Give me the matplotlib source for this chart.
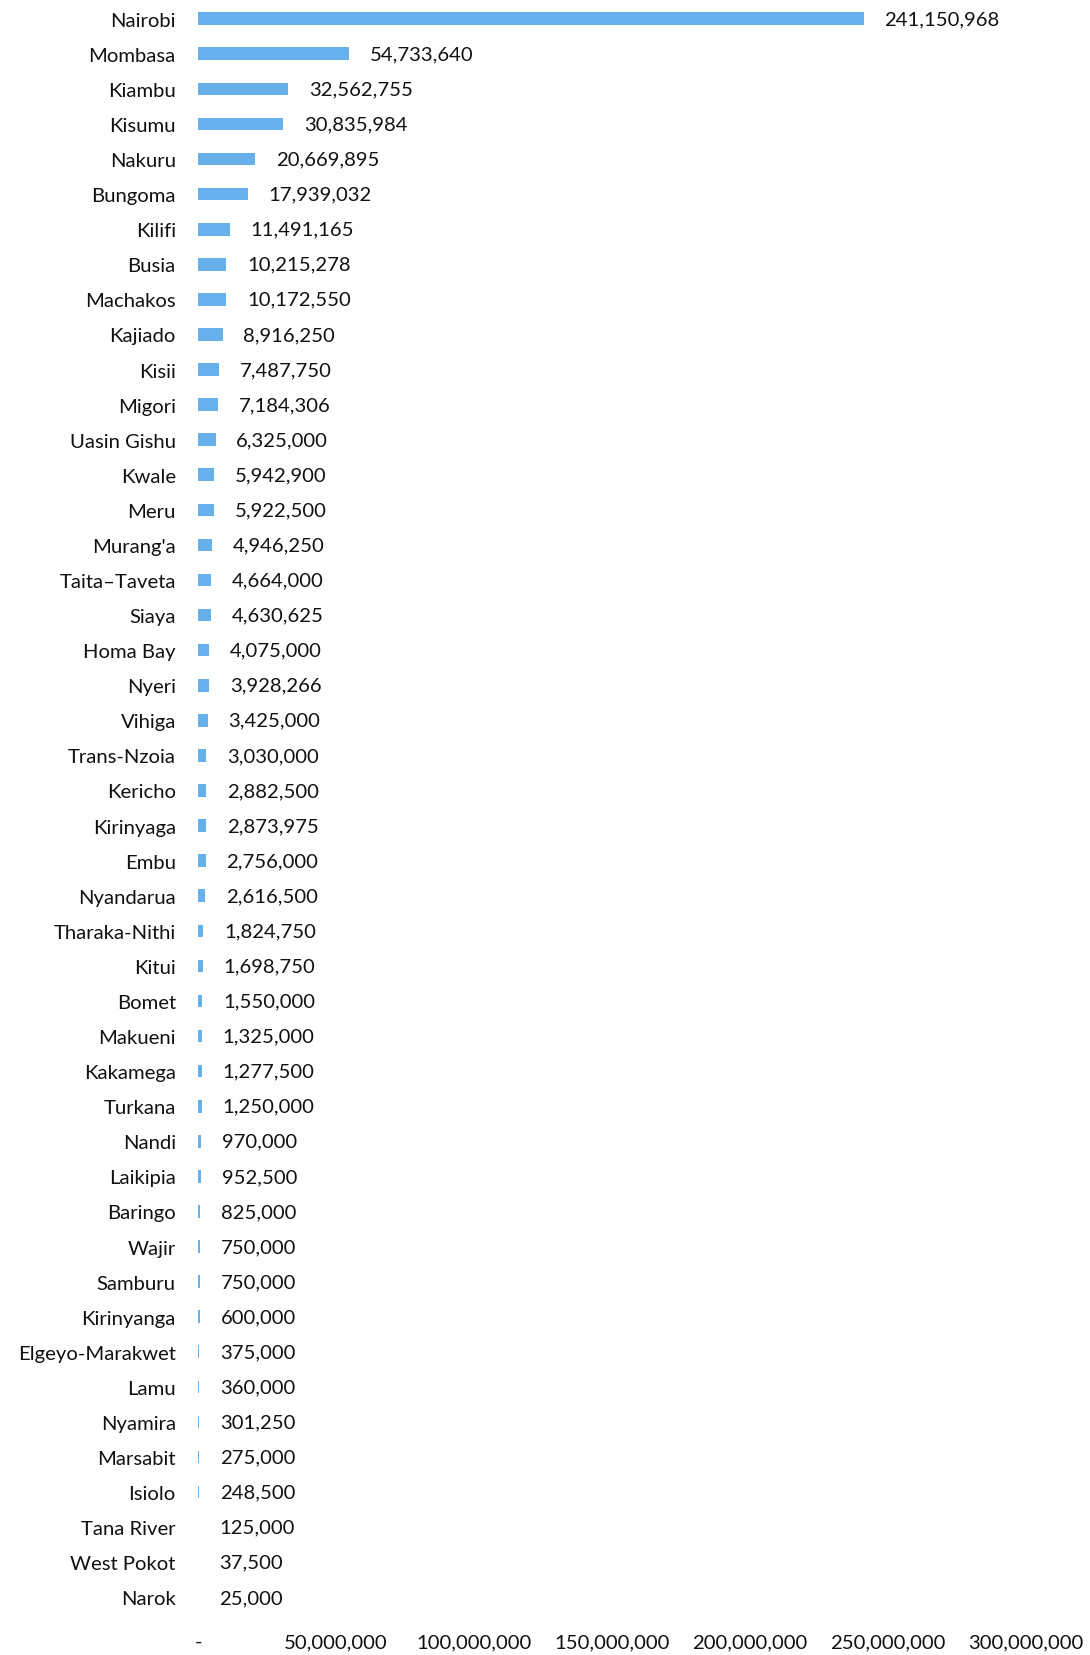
import matplotlib
matplotlib.use("Agg")
import matplotlib.pyplot as plt
from matplotlib.ticker import FuncFormatter

# county totals, top to bottom as in the chart
counties = [
    "Nairobi", "Mombasa", "Kiambu", "Kisumu", "Nakuru", "Bungoma", "Kilifi",
    "Busia", "Machakos", "Kajiado", "Kisii", "Migori", "Uasin Gishu", "Kwale",
    "Meru", "Murang'a", "Taita\u2013Taveta", "Siaya", "Homa Bay", "Nyeri",
    "Vihiga", "Trans-Nzoia", "Kericho", "Kirinyaga", "Embu", "Nyandarua",
    "Tharaka-Nithi", "Kitui", "Bomet", "Makueni", "Kakamega", "Turkana",
    "Nandi", "Laikipia", "Baringo", "Wajir", "Samburu", "Kirinyanga",
    "Elgeyo-Marakwet", "Lamu", "Nyamira", "Marsabit", "Isiolo", "Tana River",
    "West Pokot", "Narok",
]
amounts = [
    241150968, 54733640, 32562755, 30835984, 20669895, 17939032, 11491165,
    10215278, 10172550, 8916250, 7487750, 7184306, 6325000, 5942900,
    5922500, 4946250, 4664000, 4630625, 4075000, 3928266,
    3425000, 3030000, 2882500, 2873975, 2756000, 2616500,
    1824750, 1698750, 1550000, 1325000, 1277500, 1250000,
    970000, 952500, 825000, 750000, 750000, 600000,
    375000, 360000, 301250, 275000, 248500, 125000,
    37500, 25000,
]
x_ticks = [0, 50e6, 100e6, 150e6, 200e6, 250e6, 300e6]

plt.rcParams["font.family"] = ["Lato", "DejaVu Sans"]
fs = 14.6

fig = plt.figure(figsize=(10.9, 16.56), dpi=100)
ax = fig.add_axes([0.1817, 0.0242, 0.7596, 0.9745])

ypos = list(range(len(counties)))
ax.barh(ypos, amounts, height=0.36, color="#66B0EC")

for y, v in zip(ypos, amounts):
    ax.annotate(f"{v:,}", xy=(v, y), xytext=(15, 0), textcoords="offset points",
                va="center", ha="left", fontsize=fs, color="#111111")

ax.set_ylim(len(counties) - 0.5, -0.5)
ax.set_xlim(0, 300e6)
ax.set_yticks(ypos)
ax.set_yticklabels(counties, fontsize=fs, color="#111111")
ax.set_xticks(x_ticks)
ax.xaxis.set_major_formatter(FuncFormatter(lambda v, p: "-" if v == 0 else f"{int(v):,}"))
ax.tick_params(axis="x", length=0, pad=13, labelsize=fs, labelcolor="#111111")
ax.tick_params(axis="y", length=0, pad=16)

for s in ax.spines.values():
    s.set_visible(False)

fig.savefig("out.png", dpi=100)
